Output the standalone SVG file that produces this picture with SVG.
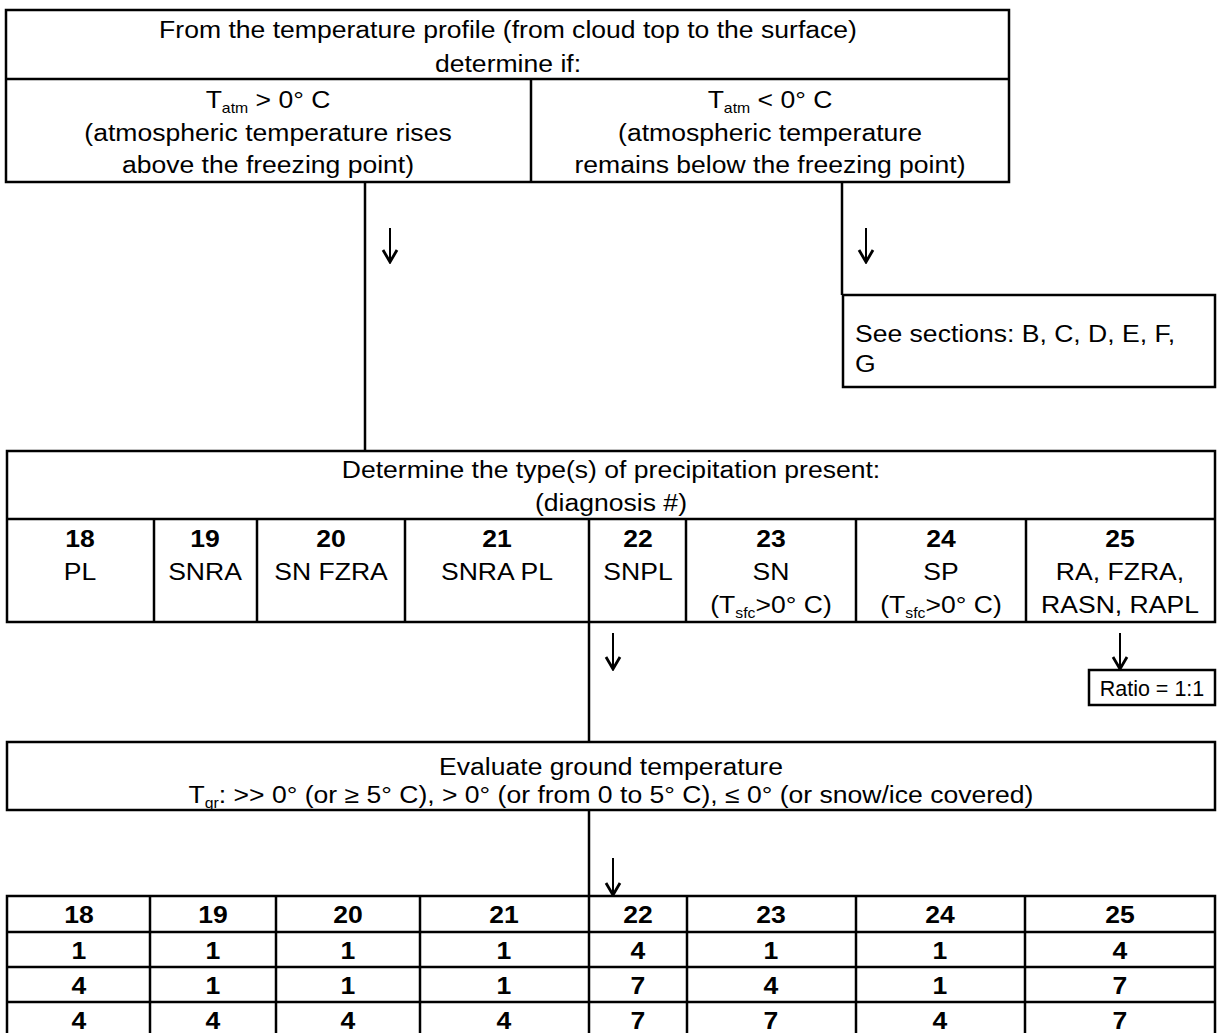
<svg xmlns="http://www.w3.org/2000/svg" width="1218" height="1033" viewBox="0 0 1218 1033">
<style>
.t{font-family:"Liberation Sans",Arial,Helvetica,sans-serif;font-size:23.5px;fill:#000}
.c{text-anchor:middle}
.b{font-weight:bold}
.sub{font-size:14px}
.box{fill:none;stroke:#000;stroke-width:2.5}
.ln{stroke:#000;stroke-width:2.5;fill:none}
.arr{stroke:#000;stroke-width:2;fill:none;marker-end:url(#ah)}
</style>
<defs>
<marker id="ah" viewBox="-2 -9 16 18" refX="12" refY="0" markerWidth="16" markerHeight="18" markerUnits="userSpaceOnUse" orient="auto">
<path d="M0,-7 L12,0 L0,7" fill="none" stroke="#000" stroke-width="2.8" stroke-linejoin="miter"/>
</marker>
</defs>
<rect width="1218" height="1033" fill="#fff"/>

<g id="connectors">
<line class="ln" x1="365" y1="182" x2="365" y2="451"/>
<line class="arr" x1="390" y1="228" x2="390" y2="262"/>
<line class="ln" x1="842" y1="182" x2="842" y2="295"/>
<line class="arr" x1="866" y1="228" x2="866" y2="262"/>
<line class="ln" x1="589" y1="622" x2="589" y2="742"/>
<line class="arr" x1="613" y1="633" x2="613" y2="669"/>
<line class="arr" x1="1120" y1="633" x2="1120" y2="669"/>
<line class="ln" x1="589" y1="810" x2="589" y2="896"/>
<line class="arr" x1="613" y1="858" x2="613" y2="895"/>
</g>

<g id="profile-box">
<rect class="box" x="6" y="10" width="1003" height="172"/>
<line class="ln" x1="6" y1="79" x2="1009" y2="79"/>
<line class="ln" x1="531" y1="79" x2="531" y2="182"/>
<text class="t c" transform="translate(508,38) scale(1.13 1)">From the temperature profile (from cloud top to the surface)</text>
<text class="t c" transform="translate(508,72) scale(1.13 1)">determine if:</text>
<text class="t c" transform="translate(268,108) scale(1.13 1)">T<tspan class="sub" dy="5">atm</tspan><tspan dy="-5"> &gt; 0° C</tspan></text>
<text class="t c" transform="translate(268,141) scale(1.13 1)">(atmospheric temperature rises</text>
<text class="t c" transform="translate(268,173) scale(1.13 1)">above the freezing point)</text>
<text class="t c" transform="translate(770,108) scale(1.13 1)">T<tspan class="sub" dy="5">atm</tspan><tspan dy="-5"> &lt; 0° C</tspan></text>
<text class="t c" transform="translate(770,141) scale(1.13 1)">(atmospheric temperature</text>
<text class="t c" transform="translate(770,173) scale(1.13 1)">remains below the freezing point)</text>
</g>

<g id="see-sections">
<rect class="box" x="843" y="295" width="372" height="92"/>
<text class="t" transform="translate(855,342) scale(1.13 1)">See sections: B, C, D, E, F,</text>
<text class="t" transform="translate(855,372) scale(1.13 1)">G</text>
</g>

<g id="precip-box">
<rect class="box" x="7" y="451" width="1208" height="171"/>
<line class="ln" x1="7" y1="519" x2="1215" y2="519"/>
<line class="ln" x1="154" y1="519" x2="154" y2="622"/>
<line class="ln" x1="257" y1="519" x2="257" y2="622"/>
<line class="ln" x1="405" y1="519" x2="405" y2="622"/>
<line class="ln" x1="589" y1="519" x2="589" y2="622"/>
<line class="ln" x1="686" y1="519" x2="686" y2="622"/>
<line class="ln" x1="856" y1="519" x2="856" y2="622"/>
<line class="ln" x1="1026" y1="519" x2="1026" y2="622"/>
<text class="t c" transform="translate(611,478) scale(1.13 1)">Determine the type(s) of precipitation present:</text>
<text class="t c" transform="translate(611,511) scale(1.13 1)">(diagnosis #)</text>
<text class="t c b" transform="translate(80,547) scale(1.13 1)">18</text>
<text class="t c" transform="translate(80,580) scale(1.13 1)">PL</text>
<text class="t c b" transform="translate(205,547) scale(1.13 1)">19</text>
<text class="t c" transform="translate(205,580) scale(1.13 1)">SNRA</text>
<text class="t c b" transform="translate(331,547) scale(1.13 1)">20</text>
<text class="t c" transform="translate(331,580) scale(1.13 1)">SN FZRA</text>
<text class="t c b" transform="translate(497,547) scale(1.13 1)">21</text>
<text class="t c" transform="translate(497,580) scale(1.13 1)">SNRA PL</text>
<text class="t c b" transform="translate(638,547) scale(1.13 1)">22</text>
<text class="t c" transform="translate(638,580) scale(1.13 1)">SNPL</text>
<text class="t c b" transform="translate(771,547) scale(1.13 1)">23</text>
<text class="t c" transform="translate(771,580) scale(1.13 1)">SN</text>
<text class="t c" transform="translate(771,613) scale(1.13 1)">(T<tspan class="sub" dy="5">sfc</tspan><tspan dy="-5">&gt;0° C)</tspan></text>
<text class="t c b" transform="translate(941,547) scale(1.13 1)">24</text>
<text class="t c" transform="translate(941,580) scale(1.13 1)">SP</text>
<text class="t c" transform="translate(941,613) scale(1.13 1)">(T<tspan class="sub" dy="5">sfc</tspan><tspan dy="-5">&gt;0° C)</tspan></text>
<text class="t c b" transform="translate(1120,547) scale(1.13 1)">25</text>
<text class="t c" transform="translate(1120,580) scale(1.13 1)">RA, FZRA,</text>
<text class="t c" transform="translate(1120,613) scale(1.13 1)">RASN, RAPL</text>
</g>

<g id="ratio-box">
<rect class="box" x="1089" y="670" width="126" height="35"/>
<text class="t c" style="font-size:21.5px" x="1152" y="696">Ratio = 1:1</text>
</g>

<g id="ground-box">
<rect class="box" x="7" y="742" width="1208" height="68"/>
<text class="t c" transform="translate(611,775) scale(1.13 1)">Evaluate ground temperature</text>
<text class="t c" transform="translate(611,803) scale(1.13 1)">T<tspan class="sub" dy="5">gr</tspan><tspan dy="-5">: &gt;&gt; 0° (or ≥ 5° C), &gt; 0° (or from 0 to 5° C), ≤ 0° (or snow/ice covered)</tspan></text>
</g>

<g id="result-table">
<rect class="box" x="7" y="896" width="1208" height="145"/>
<line class="ln" x1="7" y1="932" x2="1215" y2="932"/>
<line class="ln" x1="7" y1="967" x2="1215" y2="967"/>
<line class="ln" x1="7" y1="1002" x2="1215" y2="1002"/>
<line class="ln" x1="150" y1="896" x2="150" y2="1041"/>
<line class="ln" x1="276" y1="896" x2="276" y2="1041"/>
<line class="ln" x1="420" y1="896" x2="420" y2="1041"/>
<line class="ln" x1="589" y1="896" x2="589" y2="1041"/>
<line class="ln" x1="687" y1="896" x2="687" y2="1041"/>
<line class="ln" x1="856" y1="896" x2="856" y2="1041"/>
<line class="ln" x1="1025" y1="896" x2="1025" y2="1041"/>
<g class="t c b">
<text transform="translate(79,923) scale(1.13 1)">18</text>
<text transform="translate(213,923) scale(1.13 1)">19</text>
<text transform="translate(348,923) scale(1.13 1)">20</text>
<text transform="translate(504,923) scale(1.13 1)">21</text>
<text transform="translate(638,923) scale(1.13 1)">22</text>
<text transform="translate(771,923) scale(1.13 1)">23</text>
<text transform="translate(940,923) scale(1.13 1)">24</text>
<text transform="translate(1120,923) scale(1.13 1)">25</text>
<text transform="translate(79,959) scale(1.13 1)">1</text>
<text transform="translate(213,959) scale(1.13 1)">1</text>
<text transform="translate(348,959) scale(1.13 1)">1</text>
<text transform="translate(504,959) scale(1.13 1)">1</text>
<text transform="translate(638,959) scale(1.13 1)">4</text>
<text transform="translate(771,959) scale(1.13 1)">1</text>
<text transform="translate(940,959) scale(1.13 1)">1</text>
<text transform="translate(1120,959) scale(1.13 1)">4</text>
<text transform="translate(79,994) scale(1.13 1)">4</text>
<text transform="translate(213,994) scale(1.13 1)">1</text>
<text transform="translate(348,994) scale(1.13 1)">1</text>
<text transform="translate(504,994) scale(1.13 1)">1</text>
<text transform="translate(638,994) scale(1.13 1)">7</text>
<text transform="translate(771,994) scale(1.13 1)">4</text>
<text transform="translate(940,994) scale(1.13 1)">1</text>
<text transform="translate(1120,994) scale(1.13 1)">7</text>
<text transform="translate(79,1029) scale(1.13 1)">4</text>
<text transform="translate(213,1029) scale(1.13 1)">4</text>
<text transform="translate(348,1029) scale(1.13 1)">4</text>
<text transform="translate(504,1029) scale(1.13 1)">4</text>
<text transform="translate(638,1029) scale(1.13 1)">7</text>
<text transform="translate(771,1029) scale(1.13 1)">7</text>
<text transform="translate(940,1029) scale(1.13 1)">4</text>
<text transform="translate(1120,1029) scale(1.13 1)">7</text>
</g>
</g>
</svg>
